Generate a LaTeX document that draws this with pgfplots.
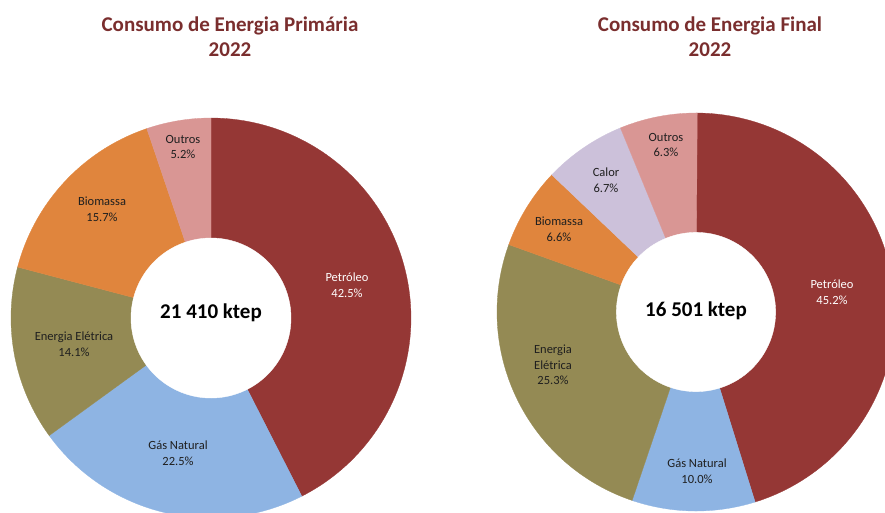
\documentclass[border=0pt]{standalone}
\usepackage{pgfplots}
\pgfplotsset{compat=1.18}
\usepackage{fontspec}
\setmainfont{Carlito}
\definecolor{petro}{HTML}{953735}
\definecolor{gas}{HTML}{8EB4E3}
\definecolor{elec}{HTML}{948A54}
\definecolor{bio}{HTML}{E0853D}
\definecolor{outros}{HTML}{D99694}
\definecolor{calor}{HTML}{CCC1DA}
\definecolor{titlec}{HTML}{7A2E2E}
\definecolor{lab}{HTML}{1F1F1F}
\newcommand\slice[2]{%
  \pgfmathsetmacro\angA{90-3.6*\cum}%
  \pgfmathsetmacro\newcum{\cum+#2}\xdef\cum{\newcum}%
  \pgfmathsetmacro\angB{90-3.6*\cum}%
  \edef\tmp{\noexpand\addplot[fill=#1,draw=#1,line width=0.3pt,domain=\angB:\angA,samples=100] ({cos(x)},{sin(x)}) -- (axis cs:0,0) -- cycle;}%
  \tmp}
\newcommand\hole[1]{\addplot[fill=white,draw=white,domain=0:360,samples=150] ({#1*cos(x)},{#1*sin(x)}) -- cycle;}
\begin{document}
\begin{tikzpicture}
\useasboundingbox (0,0) rectangle (885pt,-512pt);
\clip (0,0) rectangle (885pt,-512pt);
% Primary energy
\begin{axis}[hide axis, x=200pt, y=200pt, xmin=-1, xmax=1, ymin=-1, ymax=1,
  anchor=center, at={(211pt,-318pt)}, clip=false]
  \gdef\cum{0}
  \slice{petro}{42.5}
  \slice{gas}{22.5}
  \slice{elec}{14.1}
  \slice{bio}{15.7}
  \slice{outros}{5.2}
  \hole{0.40}
\end{axis}
% Final energy
\begin{axis}[hide axis, x=199pt, y=199pt, xmin=-1, xmax=1, ymin=-1, ymax=1,
  anchor=center, at={(696pt,-312pt)}, clip=false]
  \gdef\cum{0}
  \slice{petro}{45.2}
  \slice{gas}{10.0}
  \slice{elec}{25.3}
  \slice{bio}{6.6}
  \slice{calor}{6.7}
  \slice{outros}{6.3}
  \hole{0.40}
\end{axis}
% titles
\node[align=center, text=titlec, font=\bfseries\fontsize{21}{25}\selectfont] at (230pt,-37pt) {Consumo de Energia Primária\\2022};
\node[align=center, text=titlec, font=\bfseries\fontsize{21}{25}\selectfont] at (710pt,-37pt) {Consumo de Energia Final\\2022};
% centre totals
\node[font=\bfseries\fontsize{21}{25}\selectfont] at (211pt,-313pt) {21 410 ktep};
\node[font=\bfseries\fontsize{21}{25}\selectfont] at (696pt,-311pt) {16 501 ktep};
% labels left
\tikzset{lbl/.style={align=center, text=lab, font=\fontsize{12.5}{15.5}\selectfont}}
\node[lbl] at (183pt,-147pt) {Outros\\5.2\%};
\node[lbl] at (102pt,-209pt) {Biomassa\\15.7\%};
\node[lbl] at (74pt,-344pt) {Energia Elétrica\\14.1\%};
\node[lbl] at (178pt,-453pt) {Gás Natural\\22.5\%};
\node[lbl, text=white] at (347pt,-285pt) {Petróleo\\42.5\%};
% labels right
\node[lbl] at (666pt,-145pt) {Outros\\6.3\%};
\node[lbl] at (606pt,-180pt) {Calor\\6.7\%};
\node[lbl] at (559pt,-229pt) {Biomassa\\6.6\%};
\node[lbl] at (553pt,-365pt) {Energia\\Elétrica\\25.3\%};
\node[lbl] at (697pt,-471pt) {Gás Natural\\10.0\%};
\node[lbl, text=white] at (832pt,-292pt) {Petróleo\\45.2\%};
\end{tikzpicture}
\end{document}
